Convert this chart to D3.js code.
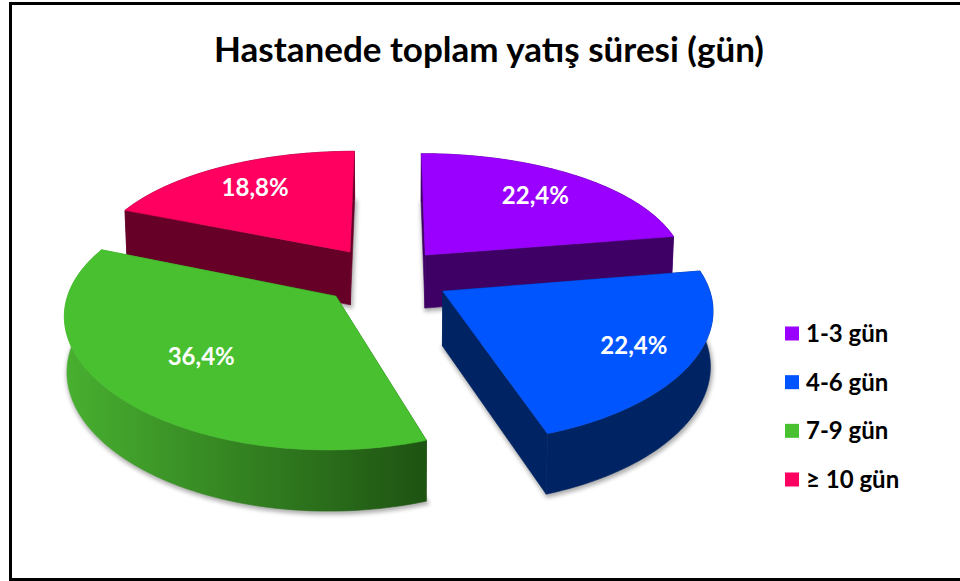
<!DOCTYPE html>
<html><head><meta charset="utf-8">
<script src="https://cdn.jsdelivr.net/npm/d3@7/dist/d3.min.js"></script>
<style>html,body{margin:0;padding:0;background:#fff}svg{display:block}text{font-family:Lato,"Open Sans",sans-serif;font-weight:700}</style>
</head><body><svg id="c" width="960" height="581"></svg>
<script>
const titleText = "Hastanede toplam yatış süresi (gün)";
const categories = ["1-3 gün","4-6 gün","7-9 gün","≥ 10 gün"];
const values = [22.4,22.4,36.4,18.8];
const topColors = ["#9900FF","#0055FF","#48C030","#FF0060"];
const wallLight = ["#3F0066","#002463","#48B030","#660026"];
const wallDark  = ["#3F0066","#002463","#1E5312","#660026"];
const explodeX = [36,52,-53,-41];
const explodeY = [-46,32,42,-53];
const labelFrac = [.72,.78,.635,.735];
const drawOrder = [3,0,2,1];

const W=960,H=581,cx=390,cy=276,k=.468,Dx=2100,Dy=1700,Dh=2600,R=263,depth=54;
const svg=d3.select("#c");
const defs=svg.append("defs");
defs.append("filter").attr("id","soft").attr("x","-20%").attr("y","-20%").attr("width","140%").attr("height","140%")
  .append("feGaussianBlur").attr("stdDeviation",2);
svg.append("rect").attr("width",W).attr("height",H).attr("fill","#fff");
const frame=d3.line();
svg.append("path").attr("d",frame([[10.5,H],[10.5,3.5],[W,3.5]])).attr("fill","none").attr("stroke","#000").attr("stroke-width",3);
svg.append("line").attr("x1",10).attr("x2",W).attr("y1",579.5).attr("y2",579.5).attr("stroke","#000").attr("stroke-width",3);

svg.append("text").attr("x",489).attr("y",62).attr("text-anchor","middle").attr("font-size",35).attr("fill","#000").text(titleText);

function project(X,Y,h){
  const wx=1-Y/Dx, wy=1-Y/Dy, wh=1-Y/Dh, b=1-.008*h/depth;
  return [cx+(X/wx)*b, cy+k*Y/wy+h/wh];
}
const arcs=d3.pie().sort(null).value(d=>d)(values);
const lineGen=d3.line();
function planePoint(i,a,r){
  return [explodeX[i]+r*Math.sin(a), explodeY[i]-r*Math.cos(a)];
}
function rimAngles(i){
  const a=arcs[i], n=Math.ceil((a.endAngle-a.startAngle)/0.02);
  return d3.range(n+1).map(j=>a.startAngle+(a.endAngle-a.startAngle)*j/n);
}
drawOrder.forEach(i=>{
  const pts=rimAngles(i).map(a=>planePoint(i,a,R));
  const apex=planePoint(i,0,0);
  const outline=[apex,...pts];
  const top=outline.map(p=>project(p[0],p[1],0));
  const bot=outline.map(p=>project(p[0],p[1],depth));
  const g=svg.append("g");
  g.append("path").attr("d",lineGen(bot.map(p=>[p[0]+1,p[1]+2]))+"Z").attr("fill","#777").attr("stroke","#777").attr("stroke-width",3).attr("opacity",.6).attr("filter","url(#soft)");
  const gid="wall"+i;
  const grad=defs.append("linearGradient").attr("id",gid).attr("gradientUnits","userSpaceOnUse")
    .attr("x1",d3.min(top,p=>p[0])).attr("x2",d3.max(top,p=>p[0])).attr("y1",0).attr("y2",0);
  grad.append("stop").attr("offset",0).attr("stop-color",wallLight[i]);
  grad.append("stop").attr("offset",1).attr("stop-color",wallDark[i]);
  const fill=`url(#${gid})`;
  const n=outline.length;
  const rim=top.slice(1).concat(bot.slice(1).reverse());
  const e1=[top[0],top[1],bot[1],bot[0]];
  const e2=[top[0],top[n-1],bot[n-1],bot[0]];
  [e1,e2,rim].forEach(q=>g.append("path").attr("d",lineGen(q)+"Z").attr("fill",fill).attr("stroke",fill).attr("stroke-width",.6));
  g.append("path").attr("d",lineGen(top)+"Z").attr("fill",topColors[i]).attr("stroke",topColors[i]).attr("stroke-width",.5);
});
const fmt=d3.formatLocale({decimal:",",thousands:".",grouping:[3],currency:["","%"]}).format(".1f");
values.forEach((v,i)=>{
  const a=(arcs[i].startAngle+arcs[i].endAngle)/2;
  const p=planePoint(i,a,R*labelFrac[i]);
  const s=project(p[0],p[1],0);
  svg.append("text").attr("x",s[0]).attr("y",s[1]).attr("dy",".35em").attr("text-anchor","middle").attr("font-size",24).attr("fill","#fff").text(fmt(v)+"%");
});
const ly=d3.scalePoint().domain(categories).range([333.5,479.5]);
categories.forEach((c,i)=>{
  svg.append("rect").attr("x",785).attr("y",ly(c)-7).attr("width",14).attr("height",14).attr("fill",topColors[i]);
  svg.append("text").attr("x",806).attr("y",ly(c)).attr("dy",".35em").attr("font-size",24).attr("fill","#000").text(c);
});
</script></body></html>
